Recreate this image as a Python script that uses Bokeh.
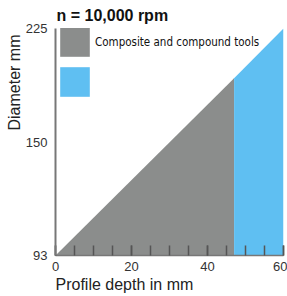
import numpy as np
from bokeh.plotting import figure
from bokeh.models import FixedTicker, Title, Legend, LegendItem
from bokeh.core.properties import value
from bokeh.embed import file_html
from bokeh.resources import INLINE

# ---- data ----
depth_mm = [0, 47, 60]            # profile depth (x)
diameter_mm = [93, 196, 225]      # tool diameter on the diagonal boundary
x_tick_values = [0, 20, 40, 60]
x_minor_ticks = [0, 5, 10, 15, 20, 25, 30, 35, 40, 45, 50, 55, 60]
y_tick_labels = ["93", "150", "225"]
series_labels = ["Composite and compound tools", " "]
series_colors = ["#8b8d8c", "#5fbff2"]

FONT = "Liberation Sans"
NARROW = "DejaVu Sans Condensed, Liberation Sans"

y_min, y_max = diameter_mm[0], diameter_mm[-1]
# the reference spaces its diameter labels evenly along the axis
y_tick_pos = list(np.linspace(y_min, y_max, len(y_tick_labels)))

p = figure(width=287, height=296, output_backend="svg", toolbar_location=None,
           x_range=(depth_mm[0], depth_mm[-1]), y_range=(y_min, y_max),
           min_border_left=55, min_border_right=4, min_border_top=28, min_border_bottom=41)

p.title.text = "n = 10,000 rpm"
p.title.text_font = FONT
p.title.text_font_size = "16px"
p.title.text_font_style = "bold"
p.title.text_color = "#111111"
p.title.offset = 1
p.title.standoff = 9

p.grid.visible = False
p.outline_line_color = None
p.background_fill_color = "white"

gray = p.varea(x=depth_mm[0:2], y1=[y_min, y_min], y2=diameter_mm[0:2],
               fill_color=series_colors[0])
blue = p.varea(x=depth_mm[1:3], y1=[y_min, y_min], y2=diameter_mm[1:3],
               fill_color=series_colors[1])

# x axis
xa = p.xaxis[0]
xa.ticker = FixedTicker(ticks=x_tick_values, minor_ticks=x_minor_ticks)
xa.major_tick_in = 10
xa.major_tick_out = 0
xa.minor_tick_in = 10
xa.minor_tick_out = 0
xa.major_tick_line_color = "#555555"
xa.minor_tick_line_color = "#555555"
xa.major_tick_line_width = 1.5
xa.minor_tick_line_width = 1.5
xa.axis_line_color = "#777777"
xa.axis_line_width = 1.5
xa.major_label_text_font = FONT
xa.major_label_text_font_size = "13px"
xa.major_label_text_color = "#333333"
xa.major_label_standoff = 6

# y axis
ya = p.yaxis[0]
ya.ticker = FixedTicker(ticks=y_tick_pos)
ya.major_label_overrides = {pos: lab for pos, lab in zip(y_tick_pos, y_tick_labels)}
ya.major_tick_in = 0
ya.major_tick_out = 0
ya.minor_tick_in = 0
ya.minor_tick_out = 0
ya.axis_line_color = "#777777"
ya.axis_line_width = 2
ya.major_label_text_font = FONT
ya.major_label_text_font_size = "13px"
ya.major_label_text_color = "#333333"
ya.major_label_standoff = 8

# axis titles as side titles so they can be aligned like the reference
xt = Title(text="Profile depth in mm", align="left", text_font=FONT,
           text_font_size="16px", text_font_style="normal", text_color="#222222",
           offset=0, standoff=0)
p.add_layout(xt, "below")
yt = Title(text="Diameter mm", align="right", text_font=FONT,
           text_font_size="16px", text_font_style="normal", text_color="#222222",
           offset=6, standoff=0)
p.add_layout(yt, "left")

legend = Legend(items=[LegendItem(label=value(series_labels[0]), renderers=[gray]),
                       LegendItem(label=value(series_labels[1]), renderers=[blue])],
                location=(1, 155), orientation="vertical",
                glyph_width=37, glyph_height=37, spacing=3,
                label_standoff=2, margin=0, padding=1,
                border_line_color=None, background_fill_alpha=0,
                label_text_font=NARROW, label_text_font_size="11.5px",
                label_text_color="#111111")
p.add_layout(legend)

open("out.html", "w").write(file_html(p, INLINE))
